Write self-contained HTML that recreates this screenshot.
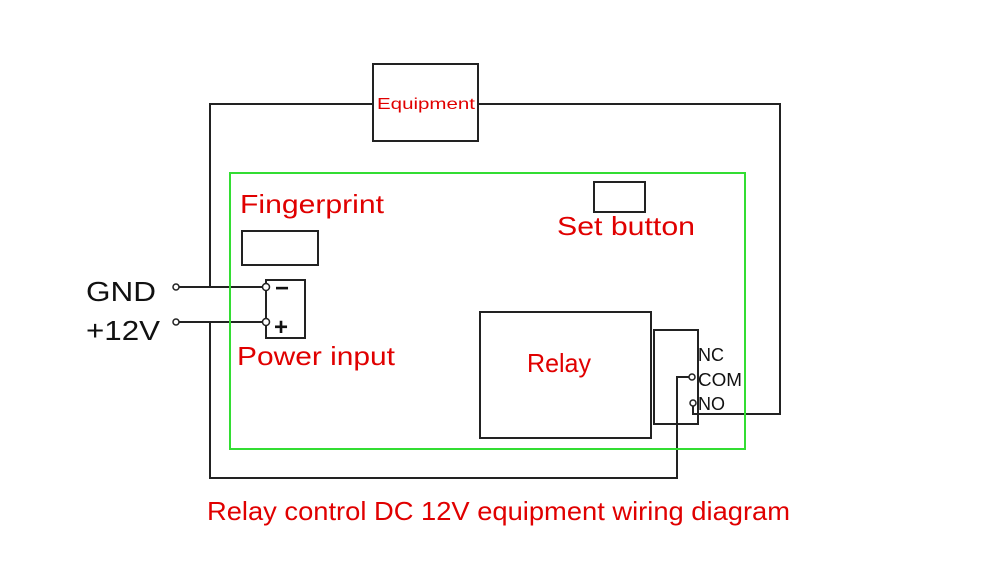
<!DOCTYPE html>
<html><head><meta charset="utf-8"><style>html,body{margin:0;padding:0;background:#fff}svg{display:block}</style></head>
<body>
<svg width="1000" height="565" viewBox="0 0 1000 565" xmlns="http://www.w3.org/2000/svg" font-family="Liberation Sans, sans-serif">
<g fill="none" stroke="#222" stroke-width="2">
<polyline points="210,288 210,104 373,104"/>
<polyline points="478,104 780,104 780,414 693,414 693,404"/>
<polyline points="210,322 210,478 677,478 677,377 692,377"/>
<rect x="373" y="64" width="105" height="77"/>
<line x1="176" y1="287" x2="266" y2="287"/>
<line x1="176" y1="322" x2="266" y2="322"/>
<rect x="266" y="280" width="39" height="58"/>
<rect x="242" y="231" width="76" height="34"/>
<rect x="594" y="182" width="51" height="30"/>
<rect x="480" y="312" width="171" height="126"/>
<rect x="654" y="330" width="44" height="94"/>
</g>
<g fill="#fff" stroke="#222" stroke-width="1.5">
<circle cx="176" cy="287" r="3"/><circle cx="176" cy="322" r="3"/>
<circle cx="266" cy="287" r="3.5"/><circle cx="266" cy="322" r="3.5"/>
<circle cx="692" cy="377" r="3"/><circle cx="693" cy="403" r="3"/>
</g>
<rect x="230" y="173" width="515" height="276" fill="none" stroke="#33dd33" stroke-width="2"/>
<g fill="#111">
<text x="86" y="301" font-size="28" textLength="70" lengthAdjust="spacingAndGlyphs">GND</text>
<text x="86" y="340" font-size="28" textLength="74" lengthAdjust="spacingAndGlyphs">+12V</text>
<text x="275" y="296" font-size="24" font-weight="bold">−</text>
<text x="274" y="335" font-size="24" font-weight="bold">+</text>
<text x="698" y="361" font-size="18">NC</text>
<text x="698" y="386" font-size="18" textLength="44" lengthAdjust="spacingAndGlyphs">COM</text>
<text x="698" y="410" font-size="18">NO</text>
</g>
<g fill="#e00000">
<text x="377" y="109" font-size="16" textLength="98" lengthAdjust="spacingAndGlyphs">Equipment</text>
<text x="240" y="213" font-size="26" textLength="144" lengthAdjust="spacingAndGlyphs">Fingerprint</text>
<text x="557" y="235" font-size="26" textLength="138" lengthAdjust="spacingAndGlyphs">Set button</text>
<text x="237" y="365" font-size="26" textLength="158" lengthAdjust="spacingAndGlyphs">Power input</text>
<text x="527" y="372" font-size="26" textLength="64" lengthAdjust="spacingAndGlyphs">Relay</text>
<text x="207" y="520" font-size="26" textLength="583" lengthAdjust="spacingAndGlyphs">Relay control DC 12V equipment wiring diagram</text>
</g>
</svg>
</body></html>
